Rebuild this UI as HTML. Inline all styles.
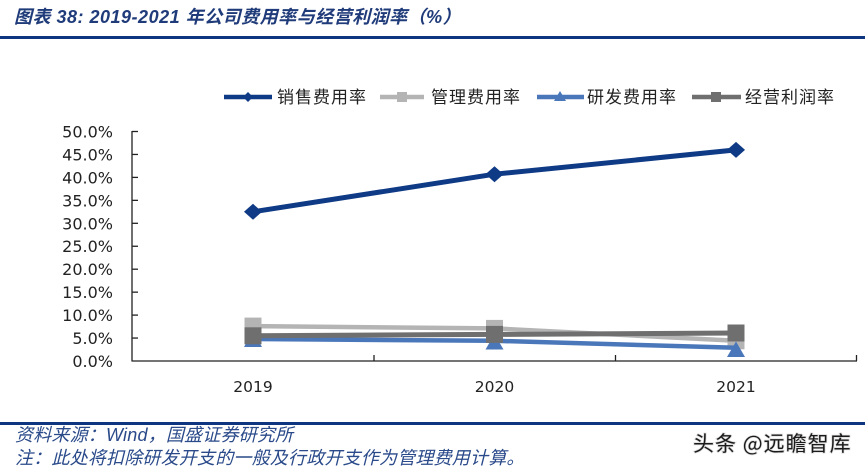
<!DOCTYPE html>
<html><head><meta charset="utf-8"><style>
html,body{margin:0;padding:0;background:#fff;}
svg{display:block;}
</style></head><body>
<svg width="865" height="469" viewBox="0 0 865 469" xmlns="http://www.w3.org/2000/svg">
<rect width="865" height="469" fill="#fff"/>
<!-- title -->
<text x="14" y="23" font-family="Liberation Sans, Noto Sans CJK SC, sans-serif" font-size="18" font-style="italic" font-weight="bold" fill="#1F3B7A" letter-spacing="0.5">图表 38:  2019-2021 年公司费用率与经营利润率（%）</text>
<rect x="0" y="36" width="865" height="3" fill="#0E3580"/>

<!-- legend -->
<g font-family="Liberation Sans, Noto Sans CJK SC, sans-serif" font-size="17" fill="#222" letter-spacing="1">
<line x1="224" y1="97" x2="272" y2="97" stroke="#0F3A85" stroke-width="4.5"/>
<polygon points="248,92 253,97 248,102 243,97" fill="#0F3A85"/>
<text x="277" y="103">销售费用率</text>
<line x1="380" y1="97" x2="424" y2="97" stroke="#B4B4B4" stroke-width="4.5"/>
<rect x="397" y="92" width="10" height="10" fill="#B4B4B4"/>
<text x="431" y="103">管理费用率</text>
<line x1="537" y1="97" x2="584" y2="97" stroke="#4A77BA" stroke-width="4.5"/>
<polygon points="560,91 566,101 554,101" fill="#4A77BA"/>
<text x="587" y="103">研发费用率</text>
<line x1="692" y1="97" x2="741" y2="97" stroke="#6F6F6F" stroke-width="4.5"/>
<rect x="711" y="92" width="10" height="10" fill="#6F6F6F"/>
<text x="745" y="103">经营利润率</text>
</g>

<!-- axes -->
<g stroke="#222" stroke-width="1.3" fill="none">
<line x1="132" y1="131" x2="132" y2="361.5"/>
<line x1="132" y1="361" x2="857" y2="361"/>
<line x1="132" y1="131.5" x2="138" y2="131.5"/>
<line x1="132" y1="154.45" x2="138" y2="154.45"/>
<line x1="132" y1="177.4" x2="138" y2="177.4"/>
<line x1="132" y1="200.35" x2="138" y2="200.35"/>
<line x1="132" y1="223.3" x2="138" y2="223.3"/>
<line x1="132" y1="246.25" x2="138" y2="246.25"/>
<line x1="132" y1="269.2" x2="138" y2="269.2"/>
<line x1="132" y1="292.15" x2="138" y2="292.15"/>
<line x1="132" y1="315.1" x2="138" y2="315.1"/>
<line x1="132" y1="338.05" x2="138" y2="338.05"/>
<line x1="374" y1="355" x2="374" y2="361"/>
<line x1="615.5" y1="355" x2="615.5" y2="361"/>
<line x1="856.5" y1="355" x2="856.5" y2="361"/>
</g>

<!-- y labels -->
<g font-family="DejaVu Sans, Liberation Sans, sans-serif" font-size="16" fill="#222" text-anchor="end">
<text x="113" y="137.5">50.0%</text>
<text x="113" y="160.4">45.0%</text>
<text x="113" y="183.4">40.0%</text>
<text x="113" y="206.3">35.0%</text>
<text x="113" y="229.3">30.0%</text>
<text x="113" y="252.2">25.0%</text>
<text x="113" y="275.2">20.0%</text>
<text x="113" y="298.1">15.0%</text>
<text x="113" y="321.1">10.0%</text>
<text x="113" y="344">5.0%</text>
<text x="113" y="367">0.0%</text>
</g>
<!-- x labels -->
<g font-family="DejaVu Sans, Liberation Sans, sans-serif" font-size="15.5" fill="#222" text-anchor="middle">
<text x="253" y="392">2019</text>
<text x="494.5" y="392">2020</text>
<text x="736" y="392">2021</text>
</g>

<!-- series: 销售 -->
<polyline points="253,211.8 494.5,174.2 736,149.9" fill="none" stroke="#0F3A85" stroke-width="5" stroke-linejoin="round"/>
<polygon points="253,203.8 262,211.8 253,219.8 244,211.8" fill="#0F3A85"/>
<polygon points="494.5,166.2 503.5,174.2 494.5,182.2 485.5,174.2" fill="#0F3A85"/>
<polygon points="736,141.9 745,149.9 736,157.9 727,149.9" fill="#0F3A85"/>

<!-- 管理 -->
<polyline points="253,326.1 494.5,328.4 736,340.8" fill="none" stroke="#B4B4B4" stroke-width="4.5"/>
<rect x="244.5" y="317.6" width="17" height="17" fill="#B4B4B4"/>
<rect x="486" y="319.9" width="17" height="17" fill="#B4B4B4"/>
<rect x="727.5" y="332.3" width="17" height="17" fill="#B4B4B4"/>

<!-- 研发 -->
<polyline points="253,339 494.5,340.8 736,347.7" fill="none" stroke="#4A77BA" stroke-width="4.5"/>
<polygon points="253,331 262,347 244,347" fill="#4A77BA"/>
<polygon points="494.5,334 503.5,349.5 485.5,349.5" fill="#4A77BA"/>
<polygon points="736,341.5 745,357 727,357" fill="#4A77BA"/>

<!-- 经营 -->
<polyline points="253,335.8 494.5,334.4 736,333" fill="none" stroke="#6F6F6F" stroke-width="5"/>
<rect x="244.5" y="327.3" width="17" height="17" fill="#6F6F6F"/>
<rect x="486" y="325.9" width="17" height="17" fill="#6F6F6F"/>
<rect x="727.5" y="324.5" width="17" height="17" fill="#6F6F6F"/>

<!-- footer -->
<rect x="0" y="422" width="865" height="3" fill="#0E3580"/>
<g font-family="Liberation Sans, Noto Sans CJK SC, sans-serif" font-size="18" font-style="italic" fill="#2A4A8A" letter-spacing="0.2">
<text x="15" y="441">资料来源：Wind，国盛证券研究所</text>
<text x="15" y="464">注：此处将扣除研发开支的一般及行政开支作为管理费用计算。</text>
</g>
<text x="693" y="451" font-family="Noto Sans CJK SC, sans-serif" font-size="21" fill="#1a1a1a" letter-spacing="1" style="paint-order:stroke" stroke="#ddd" stroke-width="1.5">头条 @远瞻智库</text>
</svg>
</body></html>
